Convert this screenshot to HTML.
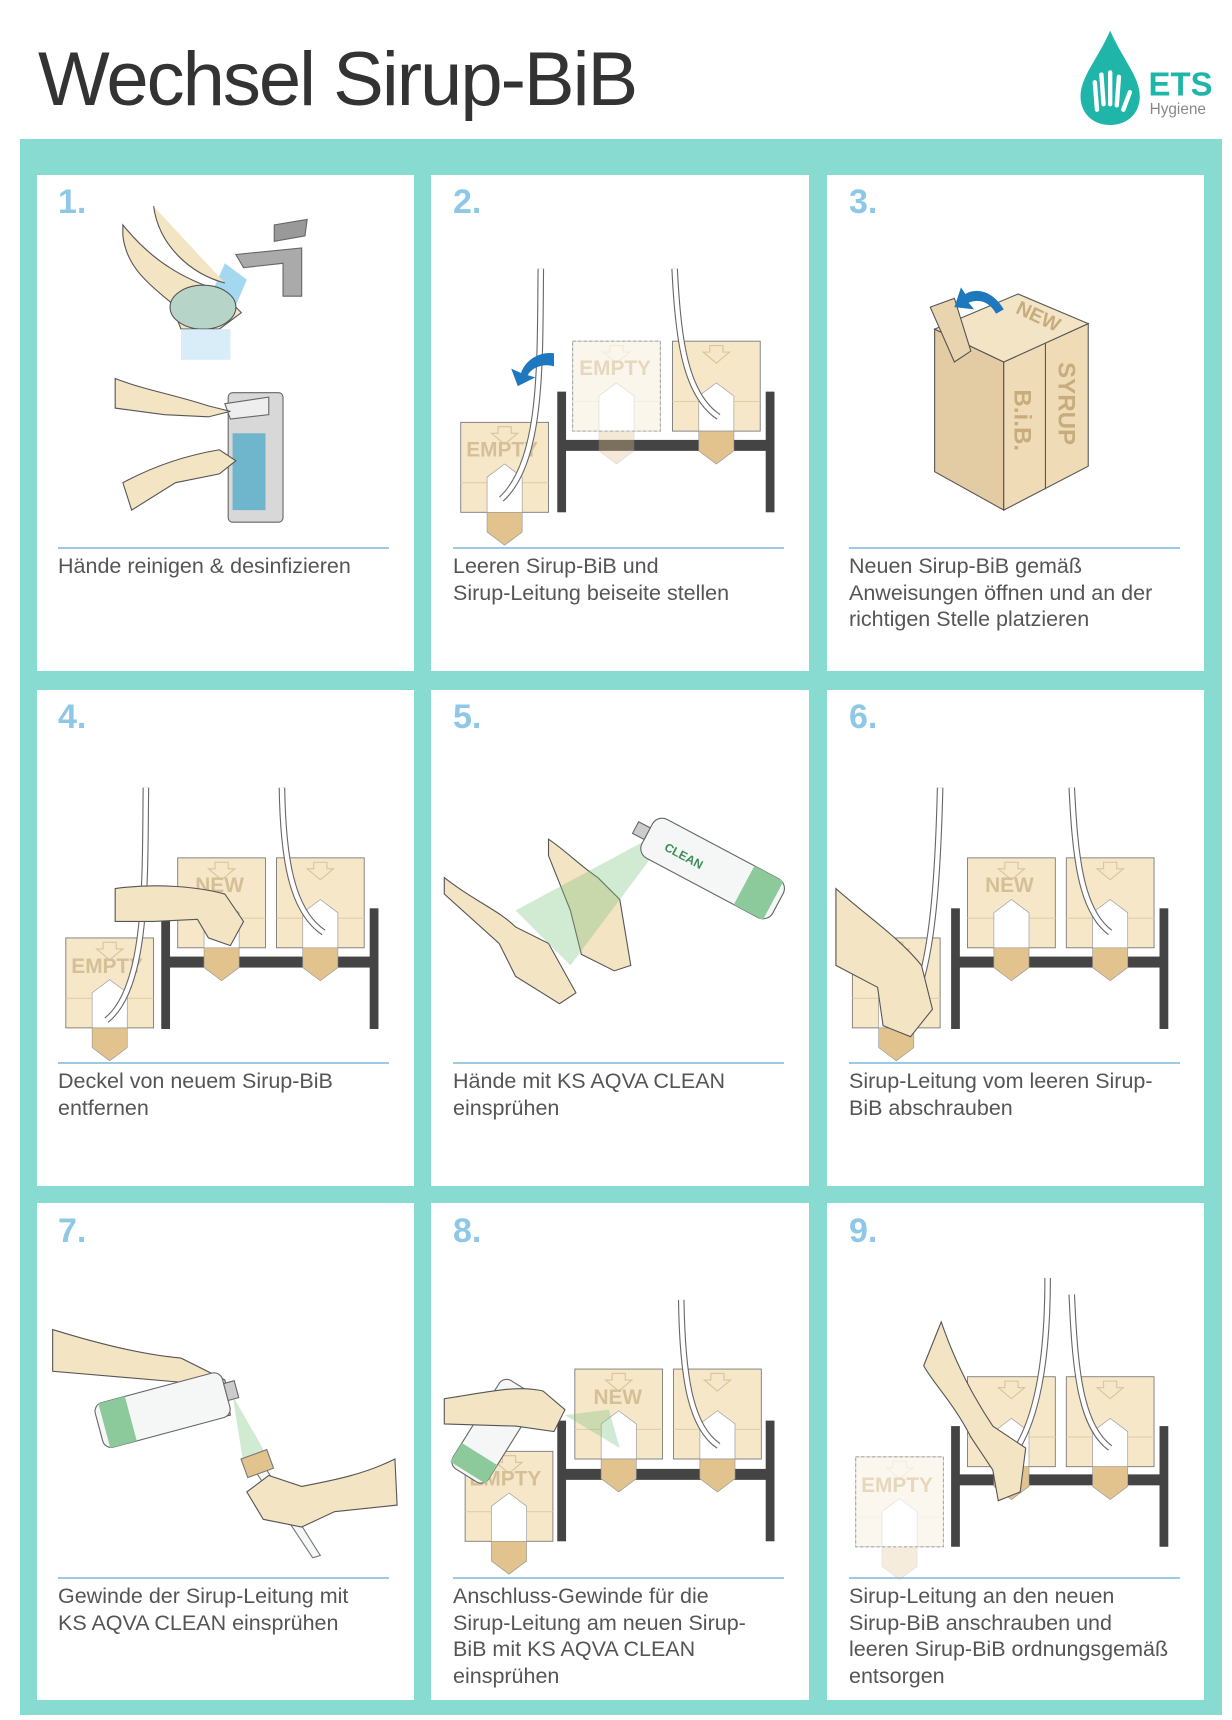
<!DOCTYPE html>
<html><head><meta charset="utf-8">
<style>
body{margin:0;width:1232px;height:1720px;background:#fff;position:relative;overflow:hidden;font-family:"Liberation Sans",sans-serif;}
.t{position:absolute;color:#555;font-size:21.5px;line-height:26.5px;}
.n{position:absolute;color:#8ec8e6;font-size:34px;font-weight:bold;}
.l{position:absolute;height:2px;background:#9cc9e6;width:331px;}
.p{position:absolute;background:#fff;}
</style></head><body>
<div style="position:absolute;left:38px;top:36px;font-size:76px;color:#333;letter-spacing:-2px">Wechsel Sirup-BiB</div>
<div style="position:absolute;left:20px;top:139px;width:1202px;height:1576px;background:#88dbd0"></div>
<div class="p" style="left:37px;top:175px;width:377px;height:496px"></div>
<div class="p" style="left:431px;top:175px;width:378px;height:496px"></div>
<div class="p" style="left:827px;top:175px;width:377px;height:496px"></div>
<div class="p" style="left:37px;top:690px;width:377px;height:496px"></div>
<div class="p" style="left:431px;top:690px;width:378px;height:496px"></div>
<div class="p" style="left:827px;top:690px;width:377px;height:496px"></div>
<div class="p" style="left:37px;top:1203px;width:377px;height:497px"></div>
<div class="p" style="left:431px;top:1203px;width:378px;height:497px"></div>
<div class="p" style="left:827px;top:1203px;width:377px;height:497px"></div>

<div class="n" style="left:58px;top:183px">1.</div>
<div class="n" style="left:453px;top:183px">2.</div>
<div class="n" style="left:849px;top:183px">3.</div>
<div class="n" style="left:58px;top:698px">4.</div>
<div class="n" style="left:453px;top:698px">5.</div>
<div class="n" style="left:849px;top:698px">6.</div>
<div class="n" style="left:58px;top:1212px">7.</div>
<div class="n" style="left:453px;top:1212px">8.</div>
<div class="n" style="left:849px;top:1212px">9.</div>

<div class="l" style="left:58px;top:547px"></div>
<div class="l" style="left:453px;top:547px"></div>
<div class="l" style="left:849px;top:547px"></div>
<div class="l" style="left:58px;top:1062px"></div>
<div class="l" style="left:453px;top:1062px"></div>
<div class="l" style="left:849px;top:1062px"></div>
<div class="l" style="left:58px;top:1577px"></div>
<div class="l" style="left:453px;top:1577px"></div>
<div class="l" style="left:849px;top:1577px"></div>

<div class="t" style="left:58px;top:553px">Hände reinigen &amp; desinfizieren</div>
<div class="t" style="left:453px;top:553px">Leeren Sirup-BiB und<br>Sirup-Leitung beiseite stellen</div>
<div class="t" style="left:849px;top:553px">Neuen Sirup-BiB gemäß<br>Anweisungen öffnen und an der<br>richtigen Stelle platzieren</div>
<div class="t" style="left:58px;top:1068px">Deckel von neuem Sirup-BiB<br>entfernen</div>
<div class="t" style="left:453px;top:1068px">Hände mit KS AQVA CLEAN<br>einsprühen</div>
<div class="t" style="left:849px;top:1068px">Sirup-Leitung vom leeren Sirup-<br>BiB abschrauben</div>
<div class="t" style="left:58px;top:1583px">Gewinde der Sirup-Leitung mit<br>KS AQVA CLEAN einsprühen</div>
<div class="t" style="left:453px;top:1583px">Anschluss-Gewinde für die<br>Sirup-Leitung am neuen Sirup-<br>BiB mit KS AQVA CLEAN<br>einsprühen</div>
<div class="t" style="left:849px;top:1583px">Sirup-Leitung an den neuen<br>Sirup-BiB anschrauben und<br>leeren Sirup-BiB ordnungsgemäß<br>entsorgen</div>

<svg width="1232" height="1720" style="position:absolute;left:0;top:0" xmlns="http://www.w3.org/2000/svg">
<defs>
<g id="bib">
<rect x="0" y="0" width="80" height="82" fill="#f6e7c9" stroke="#777" stroke-width="0.8"/>
<line x1="0" y1="55" x2="80" y2="55" stroke="#e2cfa8"/>
<polygon points="34,4 46,4 46,10 52,10 40,20 28,10 34,10" fill="none" stroke="#d9c49b"/>
<polygon points="24,50 40,38 56,50 56,82 24,82" fill="#fff" stroke="#999" stroke-width="0.6"/>
<polygon points="24,82 56,82 56,100 40,112 24,100" fill="#e2c38d" stroke="#999" stroke-width="0.6"/>
</g>
<g id="rack">
<rect x="0" y="0" width="8" height="110" fill="#444"/>
<rect x="190" y="0" width="8" height="110" fill="#444"/>
<rect x="4" y="44" width="190" height="10" fill="#444"/>
</g>
</defs>
<g transform="scale(1.097)">
<path d="M1012,28 C1000,55 985,70 985,88 C985,104 997,114 1012,114 C1027,114 1039,104 1039,88 C1039,70 1024,55 1012,28Z" fill="#1fb5a8"/>
<path d="M1000,100 L998,75 M1006,95 L1004,68 M1012,95 L1012,66 M1018,96 L1020,70 M1024,100 L1030,84" stroke="#fff" stroke-width="4" stroke-linecap="round"/>
<text x="1047" y="87" font-family="Liberation Sans" font-weight="bold" font-size="30" fill="#1fb5a8">ETS</text>
<text x="1048" y="104" font-family="Liberation Sans" font-size="14" fill="#888">Hygiene</text>

<path d="M215,232 L275,226 L275,270 L258,270 L258,240 L222,244 Z" fill="#aaa" stroke="#666"/>
<path d="M250,205 L280,200 L278,215 L250,220Z" fill="#999" stroke="#666"/>
<polygon points="205,240 225,255 210,290 185,285" fill="#7cc7ea" opacity="0.7"/>
<path d="M112,205 C140,240 170,255 200,265 L220,285 L200,300 L165,300 L155,275 C130,255 115,240 112,215Z M140,188 C145,225 175,250 205,258" fill="#f3e4c3" stroke="#555"/>
<ellipse cx="185" cy="280" rx="30" ry="20" fill="#b7d4c8" stroke="#555"/>
<rect x="165" y="300" width="45" height="28" fill="#cfe8f7" opacity="0.8"/>
<rect x="208" y="358" width="50" height="118" rx="4" fill="#d8d8d8" stroke="#666"/>
<rect x="212" y="395" width="30" height="70" fill="#6fb6cc"/>
<path d="M205,368 L245,362 L245,378 L210,382Z" fill="#eee" stroke="#666"/>
<path d="M105,345 C130,355 160,360 190,370 L210,375 L190,380 L150,378 L105,372Z" fill="#f3e4c3" stroke="#555"/>
<path d="M112,440 C140,425 170,415 200,410 L215,420 L200,432 L160,440 L120,465Z" fill="#f3e4c3" stroke="#555"/>

<use href="#rack" x="508" y="357"/>
<g opacity="0.35"><use href="#bib" x="522" y="311"/></g>
<rect x="522" y="311" width="80" height="82" fill="none" stroke="#aaa" stroke-dasharray="3,2"/>
<text x="528" y="342" font-family="Liberation Sans" font-weight="bold" font-size="19" fill="#e6d7bd">EMPTY</text>
<use href="#bib" x="613" y="311"/>
<use href="#bib" x="420" y="385"/>
<text x="425" y="416" font-family="Liberation Sans" font-weight="bold" font-size="19" fill="#d5bf96">EMPTY</text>
<path d="M493,245 C492,330 495,420 457,455" fill="none" stroke="#666" stroke-width="6"/>
<path d="M493,245 C492,330 495,420 457,455" fill="none" stroke="#fff" stroke-width="4"/>
<path d="M615,245 C618,310 625,360 655,380" fill="none" stroke="#666" stroke-width="6"/>
<path d="M615,245 C618,310 625,360 655,380" fill="none" stroke="#fff" stroke-width="4"/>
<path d="M505,322 C490,320 478,330 475,340 L466,336 L472,352 L488,344 L481,342 C485,335 495,331 505,334Z" fill="#1e78bd"/>

<polygon points="852,300 915,330 915,465 852,430" fill="#e3cca3" stroke="#555"/>
<polygon points="915,330 992,295 992,425 915,465" fill="#efdcb7" stroke="#555"/>
<polygon points="852,300 928,268 992,295 915,330" fill="#f3e4c5" stroke="#555"/>
<line x1="953" y1="313" x2="953" y2="446" stroke="#555"/>
<polygon points="848,280 870,272 885,320 870,330" fill="#e8d4ae" stroke="#555"/>
<text transform="translate(965,330) rotate(90)" font-family="Liberation Sans" font-weight="bold" font-size="22" fill="#c7ad7d">SYRUP</text>
<text transform="translate(925,355) rotate(90)" font-family="Liberation Sans" font-weight="bold" font-size="22" fill="#c7ad7d">B.i.B.</text>
<text transform="translate(925,285) rotate(25)" font-family="Liberation Sans" font-weight="bold" font-size="18" fill="#c7ad7d">NEW</text>
<path d="M915,282 C905,265 890,262 880,268 L876,262 L870,280 L888,282 L883,276 C892,272 902,275 908,286Z" fill="#1e78bd"/>

<use href="#rack" x="147" y="828"/>
<use href="#bib" x="162" y="782"/>
<text x="178" y="813" font-family="Liberation Sans" font-weight="bold" font-size="19" fill="#d5bf96">NEW</text>
<use href="#bib" x="252" y="782"/>
<use href="#bib" x="60" y="855"/>
<text x="65" y="887" font-family="Liberation Sans" font-weight="bold" font-size="19" fill="#d5bf96">EMPTY</text>
<path d="M133,718 C132,800 135,900 97,930" fill="none" stroke="#666" stroke-width="6"/>
<path d="M133,718 C132,800 135,900 97,930" fill="none" stroke="#fff" stroke-width="4"/>
<path d="M257,718 C258,780 265,830 295,850" fill="none" stroke="#666" stroke-width="6"/>
<path d="M257,718 C258,780 265,830 295,850" fill="none" stroke="#fff" stroke-width="4"/>
<path d="M105,810 C140,805 180,808 205,815 L222,840 L210,862 L190,855 L180,838 L140,840 L105,840Z" fill="#f3e4c3" stroke="#555"/>

<path d="M405,800 C430,820 455,830 470,845 L500,860 L525,905 L510,915 L470,890 L455,860 L405,815Z" fill="#f3e4c3" stroke="#555"/>
<path d="M500,765 C515,775 530,790 545,800 L565,820 L575,880 L560,885 L530,870 L520,830 L500,780Z" fill="#f3e4c3" stroke="#555"/>
<polygon points="585,768 470,830 520,880 595,780" fill="#7cc37f" opacity="0.35"/>
<g transform="translate(590,760) rotate(28)"><rect x="0" y="-20" width="135" height="40" rx="10" fill="#f4f7f5" stroke="#666"/><rect x="100" y="-20" width="30" height="40" fill="#8cc99b"/><rect x="-12" y="-6" width="12" height="12" fill="#ccc" stroke="#666"/><text x="20" y="6" font-family="Liberation Sans" font-weight="bold" font-size="11" fill="#3c8d5a">CLEAN</text></g>

<use href="#rack" x="867" y="828"/>
<use href="#bib" x="882" y="782"/>
<text x="898" y="813" font-family="Liberation Sans" font-weight="bold" font-size="19" fill="#d5bf96">NEW</text>
<use href="#bib" x="972" y="782"/>
<use href="#bib" x="777" y="855"/>
<path d="M857,718 C855,800 850,900 822,930" fill="none" stroke="#666" stroke-width="6"/>
<path d="M857,718 C855,800 850,900 822,930" fill="none" stroke="#fff" stroke-width="4"/>
<path d="M977,718 C980,780 985,830 1012,850" fill="none" stroke="#666" stroke-width="6"/>
<path d="M977,718 C980,780 985,830 1012,850" fill="none" stroke="#fff" stroke-width="4"/>
<path d="M762,810 C790,835 820,855 840,880 L850,920 L830,945 L805,935 L800,900 L762,880Z" fill="#f3e4c3" stroke="#555"/>

<path d="M48,1212 C90,1225 130,1235 165,1238 L205,1258 L210,1290 L190,1295 L165,1260 L48,1250Z" fill="#f3e4c3" stroke="#555"/>
<g transform="translate(90,1300) rotate(-15)"><rect x="0" y="-20" width="120" height="42" rx="8" fill="#f4f7f5" stroke="#666"/><rect x="5" y="-20" width="25" height="42" fill="#8cc99b"/><rect x="120" y="-8" width="10" height="16" fill="#ccc" stroke="#666"/></g>
<polygon points="212,1272 222,1335 245,1330" fill="#7cc37f" opacity="0.35"/>
<path d="M232,1340 L285,1420 L292,1418 L240,1335Z" fill="#f4f7f5" stroke="#777"/>
<rect x="222" y="1325" width="25" height="18" fill="#e2c38d" stroke="#777" transform="rotate(-20 235 1334)"/>
<path d="M360,1330 C330,1345 300,1350 275,1355 L245,1345 L225,1360 L240,1385 L275,1392 L305,1378 L362,1372Z" fill="#f3e4c3" stroke="#555"/>

<use href="#rack" x="508" y="1295"/>
<use href="#bib" x="524" y="1248"/>
<text x="541" y="1280" font-family="Liberation Sans" font-weight="bold" font-size="19" fill="#d5bf96">NEW</text>
<use href="#bib" x="614" y="1248"/>
<use href="#bib" x="424" y="1323"/>
<text x="428" y="1354" font-family="Liberation Sans" font-weight="bold" font-size="19" fill="#d5bf96">EMPTY</text>
<path d="M621,1185 C622,1250 628,1300 655,1318" fill="none" stroke="#666" stroke-width="6"/>
<path d="M621,1185 C622,1250 628,1300 655,1318" fill="none" stroke="#fff" stroke-width="4"/>
<polygon points="515,1290 565,1320 555,1285" fill="#7cc37f" opacity="0.35"/>
<g transform="translate(425,1345) rotate(-58)"><rect x="0" y="-19" width="95" height="38" rx="8" fill="#f4f7f5" stroke="#666"/><rect x="3" y="-19" width="20" height="38" fill="#8cc99b"/></g>
<path d="M405,1275 C440,1270 470,1262 495,1268 L515,1285 L505,1305 L470,1300 L405,1298Z" fill="#f3e4c3" stroke="#555"/>

<use href="#rack" x="867" y="1300"/>
<use href="#bib" x="882" y="1255"/>
<use href="#bib" x="972" y="1255"/>
<g opacity="0.3"><use href="#bib" x="780" y="1328"/></g>
<rect x="780" y="1328" width="80" height="82" fill="none" stroke="#aaa" stroke-dasharray="3,2"/>
<text x="785" y="1360" font-family="Liberation Sans" font-weight="bold" font-size="19" fill="#e6d7bd">EMPTY</text>
<path d="M955,1165 C955,1240 945,1300 920,1330" fill="none" stroke="#666" stroke-width="6"/>
<path d="M955,1165 C955,1240 945,1300 920,1330" fill="none" stroke="#fff" stroke-width="4"/>
<path d="M977,1180 C980,1250 985,1300 1012,1320" fill="none" stroke="#666" stroke-width="6"/>
<path d="M977,1180 C980,1250 985,1300 1012,1320" fill="none" stroke="#fff" stroke-width="4"/>
<path d="M858,1205 C870,1240 885,1270 905,1300 L935,1320 L930,1360 L910,1368 L905,1340 L885,1310 C870,1280 850,1260 842,1245Z" fill="#f3e4c3" stroke="#555"/>
</g>
</svg>
</body></html>
